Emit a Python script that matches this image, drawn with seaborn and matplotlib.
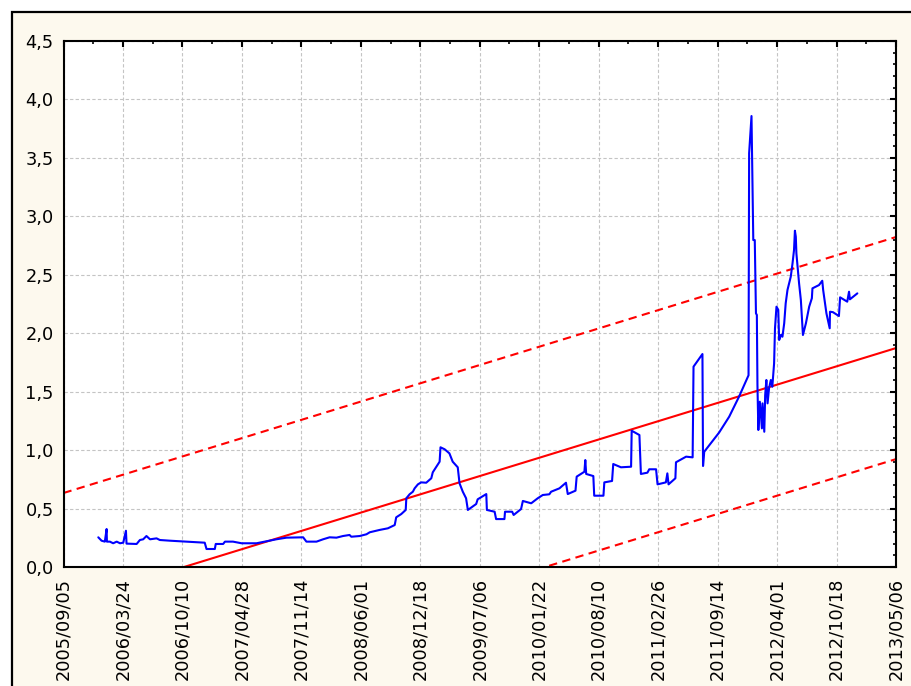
import numpy as np
import pandas as pd
import matplotlib
matplotlib.use('Agg')
import matplotlib.pyplot as plt
from matplotlib.patches import Rectangle
from matplotlib.ticker import MultipleLocator
import seaborn as sns

# --- data ---
START = pd.Timestamp('2005-09-05')

# days counted from 2005/09/05
days = [117, 128, 139, 145, 146, 156, 167, 179, 190, 201, 210, 212, 246, 257, 268,
        279, 291, 313, 324, 358, 414, 475, 481, 509, 512, 537, 543, 570, 599, 649,
        716, 750, 806, 817, 851, 873, 895, 918, 940, 962, 968, 996, 1019, 1030, 1063,
        1091, 1114, 1119, 1136, 1151, 1153, 1164, 1175, 1181, 1192, 1203, 1220, 1237,
        1242, 1265, 1268, 1282, 1298, 1309, 1326, 1332, 1343, 1354, 1360, 1388, 1393,
        1422, 1424, 1450, 1455, 1483, 1485, 1509, 1514, 1539, 1545, 1573, 1595, 1612,
        1634, 1640, 1668, 1690, 1696, 1722, 1726, 1752, 1755, 1758, 1782, 1785, 1816,
        1819, 1845, 1849, 1875, 1909, 1911, 1937, 1942, 1964, 1970, 1993, 1998, 2026,
        2031, 2035, 2058, 2060, 2094, 2116, 2119, 2149, 2151, 2155, 2177, 2205, 2239,
        2272, 2304, 2306, 2314, 2320, 2325, 2329, 2332, 2334, 2337, 2342, 2349, 2351,
        2357, 2360, 2364, 2368, 2373, 2379, 2384, 2390, 2393, 2398, 2404, 2407, 2413,
        2418, 2424, 2429, 2435, 2446, 2452, 2457, 2460, 2463, 2465, 2474, 2480, 2487,
        2497, 2508, 2517, 2519, 2541, 2552, 2555, 2566, 2577, 2578, 2588, 2608, 2612,
        2636, 2642, 2645, 2670]

values = [0.254, 0.225, 0.217, 0.325, 0.217, 0.217, 0.203, 0.217, 0.203, 0.208, 0.31,
          0.2, 0.197, 0.231, 0.237, 0.265, 0.237, 0.245, 0.231, 0.225, 0.217, 0.208,
          0.154, 0.154, 0.197, 0.197, 0.217, 0.217, 0.203, 0.203, 0.237, 0.251, 0.254,
          0.217, 0.217, 0.237, 0.254, 0.251, 0.265, 0.274, 0.259, 0.265, 0.28, 0.297,
          0.317, 0.331, 0.359, 0.425, 0.453, 0.488, 0.588, 0.622, 0.644, 0.673, 0.707,
          0.724, 0.721, 0.759, 0.81, 0.901, 1.024, 1.007, 0.972, 0.901, 0.853, 0.716,
          0.644, 0.588, 0.488, 0.539, 0.579, 0.624, 0.488, 0.473, 0.41, 0.41, 0.473,
          0.473, 0.445, 0.496, 0.565, 0.545, 0.588, 0.616, 0.622, 0.644, 0.673, 0.721,
          0.624, 0.653, 0.773, 0.815, 0.915, 0.796, 0.778, 0.61, 0.61, 0.724, 0.736,
          0.881, 0.853, 0.858, 1.166, 1.129, 0.796, 0.807, 0.836, 0.836, 0.707, 0.724,
          0.801, 0.707, 0.759, 0.896, 0.944, 0.938, 1.714, 1.822, 0.864, 0.986, 1.058,
          1.15, 1.286, 1.457, 1.64, 3.54, 3.858, 2.797, 2.797, 2.17, 2.156, 1.56, 1.172,
          1.414, 1.186, 1.4, 1.157, 1.471, 1.6, 1.4, 1.529, 1.6, 1.542, 1.742, 2.042,
          2.227, 2.2, 1.942, 1.985, 1.97, 2.085, 2.256, 2.37, 2.483, 2.598, 2.712,
          2.877, 2.826, 2.683, 2.427, 2.284, 1.985, 2.085, 2.227, 2.299, 2.384, 2.412,
          2.449, 2.37, 2.17, 2.042, 2.184, 2.18, 2.147, 2.307, 2.27, 2.355, 2.29, 2.341]

# fitted trend (ends of the axis) and half width of the band
fit_days = [0, 2800]
fit_values = [-0.317, 1.873]
band = 0.95

tick_labels = ['2005/09/05', '2006/03/24', '2006/10/10', '2007/04/28', '2007/11/14',
               '2008/06/01', '2008/12/18', '2009/07/06', '2010/01/22', '2010/08/10',
               '2011/02/26', '2011/09/14', '2012/04/01', '2012/10/18', '2013/05/06']
y_ticks = [0.0, 0.5, 1.0, 1.5, 2.0, 2.5, 3.0, 3.5, 4.0, 4.5]

df = pd.DataFrame({'date': START + pd.to_timedelta(days, unit='D'), 'value': values})
fit_df = pd.DataFrame({'date': START + pd.to_timedelta(fit_days, unit='D'),
                       'fit': fit_values})
fit_df['upper'] = fit_df['fit'] + band
fit_df['lower'] = fit_df['fit'] - band

# --- plot ---
sns.set_style('white')
plt.rcParams['font.family'] = ['DejaVu Sans']

fig = plt.figure(figsize=(9.11, 6.86), dpi=100, facecolor='white')
# cream panel with black frame behind everything
fig.patches.append(Rectangle((12 / 911, -0.1), 1.2, 1 - 12 / 686 + 0.1,
                             transform=fig.transFigure, facecolor='#fdf9ee',
                             edgecolor='black', lw=1.6, zorder=-10))
ax = fig.add_axes([63.5 / 911, 1 - 567 / 686, (896 - 63.5) / 911, (567 - 41) / 686])
ax.set_zorder(5)
ax.set_facecolor('white')

sns.lineplot(data=fit_df, x='date', y='upper', color='#ff0000', lw=1.5,
             dashes=(4, 2.6), estimator=None, sort=False, ax=ax)
sns.lineplot(data=fit_df, x='date', y='lower', color='#ff0000', lw=1.5,
             dashes=(4, 2.6), estimator=None, sort=False, ax=ax)
sns.lineplot(data=fit_df, x='date', y='fit', color='#ff0000', lw=1.5,
             estimator=None, sort=False, ax=ax)
sns.lineplot(data=df, x='date', y='value', color='#0000ff', lw=1.5,
             estimator=None, sort=False, ax=ax)

tick_dates = pd.to_datetime(tick_labels, format='%Y/%m/%d')
ax.set_xlim(tick_dates[0], tick_dates[-1])
ax.set_ylim(0, 4.5)

ax.set_xticks(tick_dates)
ax.set_xticklabels(tick_labels, rotation=90)
minor_dates = tick_dates[:-1] + (tick_dates[1:] - tick_dates[:-1]) / 2
ax.set_xticks(minor_dates, minor=True)

ax.set_yticks(y_ticks)
ax.set_yticklabels([f'{v:.1f}'.replace('.', ',') for v in y_ticks])
ax.yaxis.set_minor_locator(MultipleLocator(0.1))

ax.set_xlabel('')
ax.set_ylabel('')

ax.tick_params(which='major', direction='in', top=True, right=True, length=4,
               width=1.5, color='black', labelsize=12.8, labelcolor='black')
ax.tick_params(axis='x', which='major', pad=8)
ax.tick_params(axis='y', which='major', pad=7)
ax.tick_params(which='minor', direction='in', top=True, right=True, length=2.5,
               width=1.2, color='black')

ax.grid(True, which='major', color='#c4c4c4', linestyle=(0, (3, 2)), lw=0.8)
ax.set_axisbelow(True)
for s in ax.spines.values():
    s.set_color('black')
    s.set_linewidth(1.5)

fig.savefig('out.png', dpi=100, facecolor=fig.get_facecolor())
